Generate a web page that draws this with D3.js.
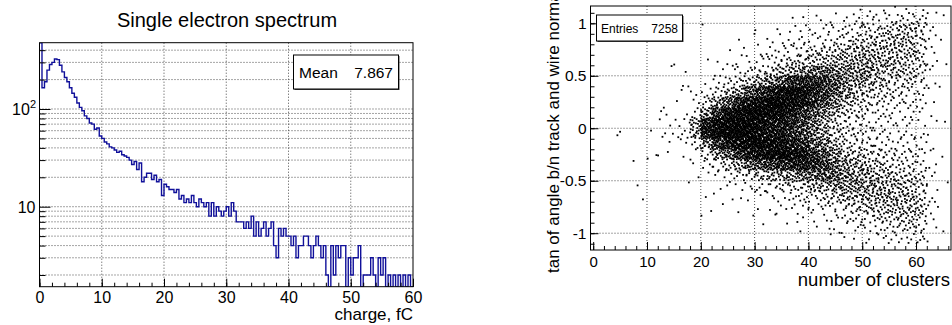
<!DOCTYPE html>
<html>
<head>
<meta charset="utf-8">
<script src="https://cdn.jsdelivr.net/npm/d3@7/dist/d3.min.js"></script>
<style>
  body { margin: 0; background: #fff; }
  svg { display: block; font-family: "Liberation Sans", Arial, Helvetica, sans-serif; }
</style>
</head>
<body>
<svg id="chart" width="952" height="325"></svg>
<script>
// ---- left pad: single electron spectrum (0.4 fC bins, 0..60 fC)
const chargeBinWidth = 0.4;
const chargeCounts = [
  600, 165, 190, 250, 285, 300, 325, 320, 280, 240,
  210, 190, 165, 145, 132, 115, 104, 96, 85, 80,
  72, 70, 62, 64, 53, 50, 46, 44, 41, 40,
  38, 36, 37, 34, 33, 32, 30, 27, 29, 24,
  28, 18, 20, 22, 22, 19, 21, 18, 19, 13,
  17, 16, 15, 15, 14, 15, 12, 13, 11, 12,
  11, 13, 11, 10, 12, 11, 10, 11, 8, 11,
  8, 10, 9, 8, 9, 10, 8, 11, 9, 7,
  7, 7, 6, 7, 6, 8, 5, 7, 5, 6,
  7, 5, 6, 7, 4, 3, 6, 5, 6, 5,
  5, 4, 5, 3, 4, 4, 5, 5, 4, 3,
  4, 5, 4, 3, 4, 2, 1, 4, 2, 4,
  3, 4, 4, 1, 3, 2, 3, 3, 4, 1,
  2, 2, 2, 3, 2, 1, 3, 2, 3, 1,
  2, 1, 2, 1, 2, 1, 2, 1, 2, 1
];
const chargeTicks = [0, 10, 20, 30, 40, 50, 60];
const chargeMean = "7.867";

// ---- right pad: tan(angle) vs number of clusters, drawn as TH2 scatter
// one array per 2-cluster column (0-2, 2-4, ... 64-66),
// 24 tan bins of 0.1 from +1.2 (first) down to -1.2 (last)
const clusterBinWidth = 2;
const tanBinWidth = 0.1;
const tanTop = 1.2;
const clusterCounts = [
  [0,0,0,0,0,0,0,0,0,0,0,0,0,0,0,0,0,0,0,0,0,0,0,0],
  [0,0,0,0,0,0,0,0,0,0,0,0,0,0,0,0,0,0,0,0,0,0,0,0],
  [0,0,0,0,0,0,0,0,0,0,0,0,2,0,0,0,0,0,0,0,0,0,0,0],
  [0,0,0,0,0,0,0,0,0,0,0,0,0,0,0,1,0,0,0,0,0,0,0,0],
  [0,0,0,0,0,0,0,0,0,0,0,0,0,0,0,0,0,1,1,0,0,0,0,0],
  [0,0,0,0,0,0,0,0,0,0,0,0,1,0,2,0,0,0,0,0,0,0,0,0],
  [0,0,0,0,0,0,0,0,0,0,3,1,2,0,2,0,0,0,0,0,0,0,0,0],
  [0,0,0,0,0,1,1,0,0,1,0,2,2,1,0,0,0,0,0,0,0,0,0,0],
  [0,0,0,0,0,0,1,1,2,0,1,3,3,2,1,0,0,1,0,0,0,0,0,0],
  [0,0,0,0,0,0,0,0,2,2,4,14,14,4,2,1,1,0,0,0,0,0,0,0],
  [0,0,1,0,0,1,0,1,3,6,18,48,48,18,6,3,1,0,1,1,1,0,0,0],
  [0,0,0,0,0,1,1,3,6,16,38,62,62,38,16,5,2,1,1,0,0,0,0,0],
  [0,0,0,0,1,1,2,5,10,26,52,68,68,52,24,8,3,2,1,1,0,0,0,0],
  [0,0,0,1,0,2,3,7,16,42,62,70,70,62,40,14,5,2,1,1,0,0,0,0],
  [0,0,0,1,1,2,4,10,28,55,66,68,68,66,52,24,7,3,1,0,1,0,0,0],
  [0,0,1,0,2,3,6,14,38,62,68,62,62,68,58,30,10,4,2,1,0,1,0,0],
  [0,0,0,2,3,4,9,20,50,68,66,54,54,66,62,36,12,5,3,1,1,0,0,0],
  [0,0,1,2,3,6,12,28,60,70,60,50,50,60,66,42,15,6,3,2,1,0,0,0],
  [0,1,2,2,4,8,15,40,64,64,52,40,40,52,64,46,18,8,4,2,1,1,0,0],
  [0,1,2,3,5,9,18,40,60,56,40,32,32,40,56,46,22,9,5,3,2,1,0,0],
  [0,1,2,3,6,10,22,40,46,40,28,22,22,28,40,42,25,12,6,3,2,1,0,0],
  [0,1,3,4,7,12,24,36,38,30,20,15,15,20,30,36,28,14,8,4,2,1,0,0],
  [0,2,3,5,8,14,22,28,28,20,12,9,9,12,20,26,26,16,10,5,3,2,1,0],
  [0,2,4,6,10,14,18,20,18,12,8,6,6,8,12,18,20,18,12,7,4,2,1,0],
  [1,3,5,8,12,15,17,16,12,9,6,5,5,7,10,14,17,17,13,9,5,3,1,0],
  [1,3,6,9,12,15,20,14,10,7,5,4,4,6,8,12,15,16,14,10,6,3,2,0],
  [1,3,7,10,12,14,13,11,8,6,4,4,4,5,7,10,13,15,14,11,7,4,2,0],
  [1,4,8,11,12,13,11,9,7,5,4,3,3,4,6,8,11,13,14,12,8,5,3,0],
  [2,5,10,12,12,11,10,8,6,4,3,3,3,4,5,7,9,11,13,12,9,6,3,0],
  [2,5,10,11,11,10,9,7,5,4,3,3,3,3,5,6,8,10,12,11,9,7,4,0],
  [2,5,7,7,7,6,6,5,4,3,2,2,2,3,3,4,6,7,8,8,7,6,4,0],
  [1,1,2,2,2,2,2,1,1,1,1,1,1,1,1,2,2,2,2,2,2,1,1,0],
  [0,1,0,1,0,1,0,0,1,0,0,1,0,0,1,0,0,1,0,1,0,1,0,0]
];
const clusterTicks = [0, 10, 20, 30, 40, 50, 60];
const tanTicks = [-1, -0.5, 0, 0.5, 1];
const tanLabels = ["-1", "-0.5", "0", "0.5", "1"];
const entries = 7258;

const svg = d3.select("#chart");
const gridColor = "#4a4a4a";

function grid(g, lines) {
  g.selectAll("line").data(lines).enter().append("line")
    .attr("x1", d => d[0]).attr("y1", d => d[1])
    .attr("x2", d => d[2]).attr("y2", d => d[3])
    .attr("stroke", gridColor).attr("stroke-width", 1)
    .attr("stroke-dasharray", "1,2");
}

// ================= left pad
var L = {left: 39.5, right: 413, top: 42.7, bottom: 286.7};
var xq = d3.scaleLinear().domain([0, 60]).range([L.left, L.right]);
var yq = d3.scaleLog().domain([1.518, 477]).range([L.bottom, L.top]).clamp(true);

svg.append("text").attr("x", 227).attr("y", 27).attr("text-anchor", "middle")
  .style("font-size", "20px").text("Single electron spectrum");

var logMinor = [2,3,4,5,6,7,8,9,20,30,40,50,60,70,80,90,200,300,400];
var logMajor = [10, 100];
var leftGrid = svg.append("g");
grid(leftGrid, chargeTicks.filter(v => v > 0 && v < 60).map(v => [xq(v), L.top, xq(v), L.bottom])
  .concat(logMinor.concat(logMajor).map(v => [L.left, yq(v), L.right, yq(v)])));

svg.append("clipPath").attr("id", "clipL").append("rect")
  .attr("x", L.left).attr("y", L.top).attr("width", L.right - L.left).attr("height", L.bottom - L.top);

var p = d3.path();
chargeCounts.forEach(function(c, i) {
  var x0 = xq(i * chargeBinWidth), x1 = xq((i + 1) * chargeBinWidth);
  if (i === 0) p.moveTo(x0, yq(c)); else p.lineTo(x0, yq(c));
  p.lineTo(x1, yq(c));
});
svg.append("path").attr("d", p.toString()).attr("clip-path", "url(#clipL)")
  .attr("fill", "none").attr("stroke", "#10109a").attr("stroke-width", 1.4);

// x axis (ticks pointing in)
svg.append("g").attr("transform", "translate(0," + L.bottom + ")")
  .call(d3.axisBottom(xq).tickValues(d3.range(0, 61, 2)).tickSize(-4).tickFormat(""))
  .call(g => g.select(".domain").remove());
svg.append("g").attr("transform", "translate(0," + L.bottom + ")")
  .call(d3.axisBottom(xq).tickValues(chargeTicks).tickSize(-8).tickPadding(5).tickFormat(d3.format("d")))
  .call(g => g.select(".domain").remove())
  .call(g => g.selectAll("text").style("font-size", "16px").attr("fill", "#000").attr("font-family", null));
svg.append("text").attr("x", L.right).attr("y", 320).attr("text-anchor", "end")
  .style("font-size", "17px").text("charge, fC");

// y axis (log)
svg.append("g").attr("transform", "translate(" + L.left + ",0)")
  .call(d3.axisLeft(yq).tickValues(logMinor).tickSize(-6).tickFormat(""))
  .call(g => g.select(".domain").remove());
svg.append("g").attr("transform", "translate(" + L.left + ",0)")
  .call(d3.axisLeft(yq).tickValues(logMajor).tickSize(-11).tickFormat(""))
  .call(g => g.select(".domain").remove());
var t100 = svg.append("text").attr("x", 36).attr("y", yq(100) + 6).attr("text-anchor", "end")
  .style("font-size", "16px");
t100.append("tspan").text("10");
t100.append("tspan").attr("dy", -7).style("font-size", "11px").text("2");
svg.append("text").attr("x", 35.5).attr("y", yq(10) + 6).attr("text-anchor", "end")
  .style("font-size", "16px").text("10");

svg.append("rect").attr("x", L.left).attr("y", L.top)
  .attr("width", L.right - L.left).attr("height", L.bottom - L.top)
  .attr("fill", "none").attr("stroke", "#000").attr("stroke-width", 1);

// stats box
svg.append("rect").attr("x", 294.5).attr("y", 56).attr("width", 105).attr("height", 34).attr("fill", "#444");
svg.append("rect").attr("x", 293.5).attr("y", 55).attr("width", 105).attr("height", 34)
  .attr("fill", "#fff").attr("stroke", "#000").attr("stroke-width", 1);
svg.append("text").attr("x", 299).attr("y", 78).style("font-size", "15.5px").text("Mean");
svg.append("text").attr("x", 393).attr("y", 78).attr("text-anchor", "end").style("font-size", "15.5px").text(chargeMean);

// ================= right pad
var R = {left: 590.5, right: 951, top: 6, bottom: 250};
var xc = d3.scaleLinear().domain([-0.5, 66.5]).range([R.left, R.right]);
var yt = d3.scaleLinear().domain([-1.16, 1.165]).range([R.bottom, R.top]);

var rightGrid = svg.append("g");
grid(rightGrid, clusterTicks.filter(v => v > 0).map(v => [xc(v), R.top, xc(v), R.bottom])
  .concat(tanTicks.map(v => [R.left, yt(v), R.right, yt(v)])));

svg.append("clipPath").attr("id", "clipR").append("rect")
  .attr("x", R.left).attr("y", R.top).attr("width", R.right - R.left).attr("height", R.bottom - R.top);

// spread each bin's entries over the cell (Halton positions, like ROOT's SCAT option)
function halton(i, b) {
  var f = 1, r = 0;
  while (i > 0) { f = f / b; r += f * (i % b); i = Math.floor(i / b); }
  return r;
}
var dots = [];
var k = 1;
clusterCounts.forEach(function(col, c) {
  col.forEach(function(n, r) {
    for (var j = 0; j < n; j++, k++) {
      dots.push({
        x: (c + halton(k, 2)) * clusterBinWidth,
        y: tanTop - (r + halton(k, 3)) * tanBinWidth
      });
    }
  });
});
svg.append("g").attr("clip-path", "url(#clipR)")
  .selectAll("rect").data(dots).enter().append("rect")
  .attr("x", d => xc(d.x) - 0.9).attr("y", d => yt(d.y) - 0.9)
  .attr("width", 1.8).attr("height", 1.8).attr("fill", "#000");

svg.append("g").attr("transform", "translate(0," + R.bottom + ")")
  .call(d3.axisBottom(xc).tickValues(d3.range(0, 67, 2)).tickSize(-4).tickFormat(""))
  .call(g => g.select(".domain").remove());
svg.append("g").attr("transform", "translate(0," + R.bottom + ")")
  .call(d3.axisBottom(xc).tickValues(clusterTicks).tickSize(-8).tickPadding(6).tickFormat(d3.format("d")))
  .call(g => g.select(".domain").remove())
  .call(g => g.selectAll("text").style("font-size", "15px").attr("fill", "#000").attr("font-family", null));
svg.append("text").attr("x", 950).attr("y", 285.5).attr("text-anchor", "end")
  .style("font-size", "18.5px").text("number of clusters");

svg.append("g").attr("transform", "translate(" + R.left + ",0)")
  .call(d3.axisLeft(yt).tickValues(d3.range(-11, 12).map(v => v / 10)).tickSize(-4).tickFormat(""))
  .call(g => g.select(".domain").remove());
svg.append("g").attr("transform", "translate(" + R.left + ",0)")
  .call(d3.axisLeft(yt).tickValues(tanTicks).tickSize(-8).tickPadding(4).tickFormat((d, i) => tanLabels[i]))
  .call(g => g.select(".domain").remove())
  .call(g => g.selectAll("text").style("font-size", "15.5px").attr("fill", "#000").attr("font-family", null).attr("x", -4));
svg.append("text").attr("transform", "translate(559,273) rotate(-90)")
  .style("font-size", "17px").text("tan of angle b/n track and wire normal");

svg.append("rect").attr("x", R.left).attr("y", R.top)
  .attr("width", R.right - R.left).attr("height", R.bottom - R.top)
  .attr("fill", "none").attr("stroke", "#000").attr("stroke-width", 1);

svg.append("rect").attr("x", 597.5).attr("y", 16).attr("width", 86).attr("height", 26).attr("fill", "#444");
svg.append("rect").attr("x", 596.5).attr("y", 15).attr("width", 86).attr("height", 26)
  .attr("fill", "#fff").attr("stroke", "#000").attr("stroke-width", 1);
svg.append("text").attr("x", 601).attr("y", 33).style("font-size", "12px").text("Entries");
svg.append("text").attr("x", 678).attr("y", 33).attr("text-anchor", "end").style("font-size", "12px").text(entries);
</script>
</body>
</html>
